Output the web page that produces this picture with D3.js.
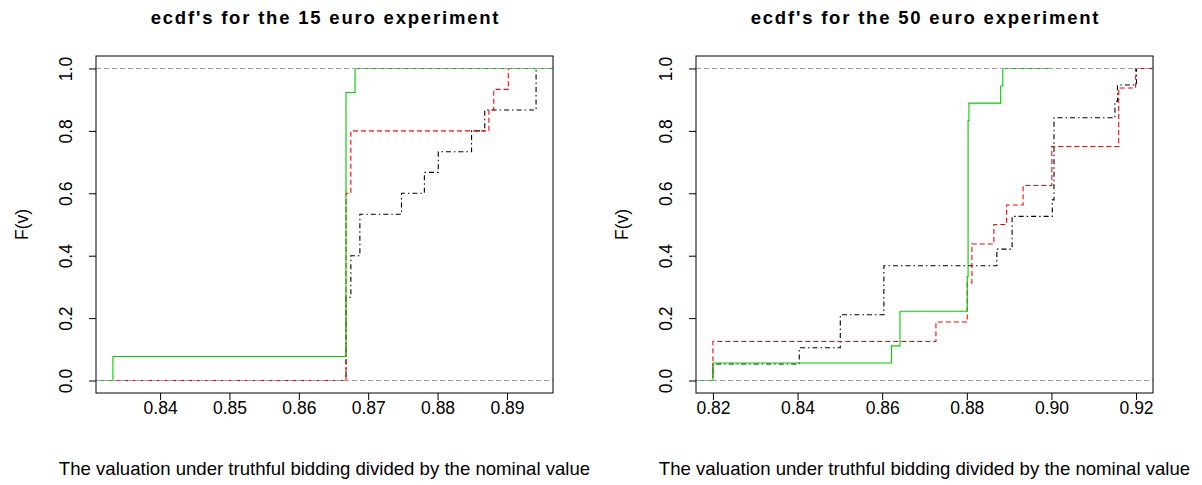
<!DOCTYPE html>
<html lang="en">
<head>
<meta charset="UTF-8">
<title>ecdf's for the 15 and 50 euro experiments</title>
<script src="https://d3js.org/d3.v7.min.js"></script>
<style>
  body { margin: 0; background: #fff; }
  text { font-family: "Liberation Sans", Arial, sans-serif; fill: #000; }
</style>
</head>
<body>
<div id="chart"></div>
<script>
// Texts
const titles = ["ecdf's for the 15 euro experiment", "ecdf's for the 50 euro experiment"];
const xLabel = "The valuation under truthful bidding divided by the nominal value";
const yLabel = "F(v)";

// Data range of each panel (axis adds 4% each side, like R does)
const xRange15 = [0.8332, 0.8942];
const xRange50 = [0.82, 0.92];
const xTicks15 = [0.84, 0.85, 0.86, 0.87, 0.88, 0.89];
const xTicks50 = [0.82, 0.84, 0.86, 0.88, 0.90, 0.92];
const yTicks = [0, 0.2, 0.4, 0.6, 0.8, 1.0];

// 15 euro experiment: jump points and F(v) after each jump
const black15X = [0.8668, 0.8675, 0.8688, 0.8748, 0.8781, 0.8801, 0.8849, 0.8868, 0.8942];
const black15F = [0.267, 0.4, 0.533, 0.6, 0.667, 0.733, 0.8, 0.867, 1];
const red15X = [0.8668, 0.8675, 0.8874, 0.8881, 0.8902];
const red15F = [0.6, 0.8, 0.867, 0.933, 1];
const green15X = [0.8332, 0.8668, 0.8681];
const green15F = [0.077, 0.923, 1];
// where each step line starts (at 0) and stops (at 1)
const black15Ends = [0.80, 0.95];
const red15Ends = [0.80, 0.95];
const green15Ends = [0.80, 0.95];

// 50 euro experiment
const black50X = [0.82, 0.8404, 0.8501, 0.8604, 0.8871, 0.8907, 0.9002, 0.9006, 0.915, 0.9156, 0.9201];
const black50F = [0.053, 0.105, 0.211, 0.368, 0.421, 0.526, 0.579, 0.842, 0.895, 0.947, 1];
const red50X = [0.82, 0.8727, 0.8801, 0.8812, 0.8864, 0.8894, 0.8933, 0.9001, 0.9159, 0.9199];
const red50F = [0.125, 0.1875, 0.3125, 0.4375, 0.5, 0.5625, 0.625, 0.75, 0.9375, 1];
const green50X = [0.82, 0.8622, 0.8642, 0.8801, 0.8803, 0.8805, 0.888, 0.8885];
const green50F = [0.056, 0.111, 0.222, 0.333, 0.833, 0.889, 0.944, 1];
const black50Ends = [0.80, 0.95];
const red50Ends = [0.80, 0.95];
const green50Ends = [0.809, 0.8995];

const W = 1202, H = 485;
const box = { left: 96, right: 553, top: 56, bottom: 393 };

const styles = {
  black: { color: "#000", dash: "1.5,3,5,3" },
  red: { color: "#ff0000", dash: "5,3" },
  green: { color: "#00cd00", dash: null }
};

const panels = [
  {
    title: titles[0], range: xRange15, ticks: xTicks15,
    series: [
      { x: black15X, f: black15F, ends: black15Ends, style: "black" },
      { x: red15X, f: red15F, ends: red15Ends, style: "red" },
      { x: green15X, f: green15F, ends: green15Ends, style: "green" }
    ]
  },
  {
    title: titles[1], range: xRange50, ticks: xTicks50,
    series: [
      { x: black50X, f: black50F, ends: black50Ends, style: "black" },
      { x: red50X, f: red50F, ends: red50Ends, style: "red" },
      { x: green50X, f: green50F, ends: green50Ends, style: "green" }
    ]
  }
];

const svg = d3.select("#chart").append("svg")
  .attr("width", W).attr("height", H);

const yScale = d3.scaleLinear()
  .domain([-0.04, 1.04])
  .range([box.bottom, box.top]);

panels.forEach((p, pi) => {
  const g = svg.append("g").attr("transform", `translate(${pi * 600},0)`);
  const span = p.range[1] - p.range[0];
  const xScale = d3.scaleLinear()
    .domain([p.range[0] - 0.04 * span, p.range[1] + 0.04 * span])
    .range([box.left, box.right]);

  const clipId = "clip" + pi;
  g.append("clipPath").attr("id", clipId)
    .append("rect")
    .attr("x", box.left).attr("y", box.top)
    .attr("width", box.right - box.left).attr("height", box.bottom - box.top);

  const plot = g.append("g").attr("clip-path", `url(#${clipId})`);

  const line = d3.line()
    .x(d => xScale(d[0]))
    .y(d => yScale(d[1]))
    .curve(d3.curveStepAfter);

  p.series.forEach(s => {
    const pts = [[s.ends[0], 0]];
    s.x.forEach((v, i) => pts.push([v, s.f[i]]));
    pts.push([s.ends[1], 1]);
    const st = styles[s.style];
    plot.append("path")
      .attr("d", line(pts))
      .attr("fill", "none")
      .attr("stroke", st.color)
      .attr("stroke-width", 1.1)
      .attr("stroke-dasharray", st.dash);
  });

  // dashed grey lines at 0 and 1
  plot.selectAll(".hline").data([0, 1]).enter()
    .append("line")
    .attr("x1", box.left).attr("x2", box.right)
    .attr("y1", d => yScale(d)).attr("y2", d => yScale(d))
    .attr("stroke", "#a0a0a0")
    .attr("stroke-width", 1.2)
    .attr("stroke-dasharray", "5,3");

  // box
  g.append("rect")
    .attr("x", box.left).attr("y", box.top)
    .attr("width", box.right - box.left).attr("height", box.bottom - box.top)
    .attr("fill", "none").attr("stroke", "#000").attr("stroke-width", 1);

  // x axis
  const xAxis = d3.axisBottom(xScale)
    .tickValues(p.ticks)
    .tickSize(7)
    .tickPadding(2)
    .tickFormat(d3.format(".2f"));
  const gx = g.append("g")
    .attr("transform", `translate(0,${box.bottom})`)
    .call(xAxis);
  gx.select(".domain").remove();
  gx.selectAll("text")
    .style("font-size", "17.5px")
    .attr("fill", "#000");

  // y axis
  const yAxis = d3.axisLeft(yScale)
    .tickValues(yTicks)
    .tickSize(7)
    .tickFormat(d3.format(".1f"));
  const gy = g.append("g")
    .attr("transform", `translate(${box.left},0)`)
    .call(yAxis);
  gy.select(".domain").remove();
  gy.selectAll(".tick text")
    .attr("x", null).attr("dy", null)
    .attr("text-anchor", "middle")
    .attr("transform", "translate(-24,0) rotate(-90)")
    .style("font-size", "17.5px");

  // title
  g.append("text")
    .attr("x", (box.left + box.right) / 2 + 1)
    .attr("y", 24)
    .attr("text-anchor", "middle")
    .style("font-size", "18.5px")
    .style("font-weight", "bold")
    .style("letter-spacing", "1.8px")
    .text(p.title);

  // axis titles
  g.append("text")
    .attr("x", (box.left + box.right) / 2)
    .attr("y", 475)
    .attr("text-anchor", "middle")
    .style("font-size", "18.6px")
    .text(xLabel);

  g.append("text")
    .attr("transform", `translate(28,${(box.top + box.bottom) / 2}) rotate(-90)`)
    .attr("text-anchor", "middle")
    .style("font-size", "17.5px")
    .text(yLabel);
});
</script>
</body>
</html>
